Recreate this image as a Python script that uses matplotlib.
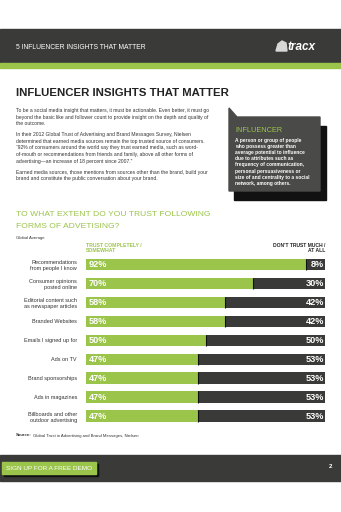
import matplotlib
matplotlib.use("Agg")
import matplotlib.pyplot as plt
from matplotlib.patches import Rectangle, Polygon

# dados do grafico
categorias = [
    "Recommendations\nfrom people I know",
    "Consumer opinions\nposted online",
    "Editorial content such\nas newspaper articles",
    "Branded Websites",
    "Emails I signed up for",
    "Ads on TV",
    "Brand sponsorships",
    "Ads in magazines",
    "Billboards and other\noutdoor advertising",
]
confia = [92, 70, 58, 58, 50, 47, 47, 47, 47]
nao_confia = [8, 30, 42, 42, 50, 53, 53, 53, 53]

paragrafos = [
    ["To be a social media insight that matters, it must be actionable. Even better, it must go",
     "beyond the basic like and follower count to provide insight on the depth and quality of",
     "the outcome."],
    ["In their 2012 Global Trust of Advertising and Brand Messages Survey, Nielsen",
     "determined that earned media sources remain the top trusted source of consumers.",
     "\u201c92% of consumers around the world say they trust earned media, such as word-",
     "of-mouth or recommendations from friends and family, above all other forms of",
     "advertising\u2014an increase of 18 percent since 2007.\u201d"],
    ["Earned media sources, those mentions from sources other than the brand, build your",
     "brand and constitute the public conversation about your brand."],
]
definicao = [
    "A person or group of people",
    "who possess greater than",
    "average potential to influence",
    "due to attributes such as",
    "frequency of communication,",
    "personal persuasiveness or",
    "size of and centrality to a social",
    "network, among others.",
]

VERDE = "#9bc44a"
ESCURO = "#3a3b38"
TEXTO = "#333333"
NORMAL = ["Liberation Sans", "DejaVu Sans"]

W, H = 341, 512
fig = plt.figure(figsize=(W / 100, H / 100), dpi=100)
fig.patch.set_facecolor("white")

fundo = fig.add_axes([0, 0, 1, 1])
fundo.set_xlim(0, W)
fundo.set_ylim(H, 0)
fundo.axis("off")

# cabecalho
fundo.add_patch(Rectangle((0, 29), W, 34, color=ESCURO))
fundo.add_patch(Rectangle((0, 63), W, 5, color=VERDE))
fundo.text(16, 47.5, "5 INFLUENCER INSIGHTS THAT MATTER", color="white",
           fontsize=4.9, family=NORMAL, va="center")
fundo.add_patch(Polygon([[276, 51], [278, 44], [282, 41], [286, 43], [287, 51]],
                        color="#d8d8d8"))
fundo.text(287, 47.5, "tracx", color="white", fontsize=8.5, family=NORMAL,
           weight="bold", style="italic", va="center")

# titulo
fundo.text(16, 93, "INFLUENCER INSIGHTS THAT MATTER", color="#222222",
           fontsize=8.2, family=NORMAL, weight="bold", va="center")

y = 110.5
for par in paragrafos:
    for linha in par:
        fundo.text(16, y, linha, color=TEXTO, fontsize=3.6, family=NORMAL,
                   va="center")
        y += 6.6
    y += 4.4

# caixa de definicao
fundo.add_patch(Rectangle((234, 126), 92, 74, color="#111111"))
fundo.add_patch(Polygon([[229, 108], [237, 117], [320, 117], [320, 191],
                         [229, 191]], color="#4a4b48"))
fundo.text(235, 130, "INFLUENCER", color=VERDE, fontsize=5.3,
           family=NORMAL, va="center")
for i, linha in enumerate(definicao):
    fundo.text(235, 140.5 + i * 6.1, linha, color="white", fontsize=3.5,
               family=NORMAL, weight="bold", va="center")

# titulo do grafico
fundo.text(16, 215, "TO WHAT EXTENT DO YOU TRUST FOLLOWING", color=VERDE,
           fontsize=6.1, family=NORMAL, va="center")
fundo.text(16, 226.5, "FORMS OF ADVETISING?", color=VERDE,
           fontsize=6.1, family=NORMAL, va="center")
fundo.text(16, 237.5, "Global Average", color=TEXTO, fontsize=3.1,
           family=NORMAL, va="center")
fundo.text(86, 248, "TRUST COMPLETELY /\nSOMEWHAT", color=VERDE, fontsize=3.7,
           family=NORMAL, weight="bold", va="center", linespacing=1.1)
fundo.text(325, 248, "DON\u2019T TRUST MUCH /\nAT ALL", color="#222222",
           fontsize=3.6, family=NORMAL, weight="bold", va="center",
           ha="right", multialignment="right", linespacing=1.1)

# barras
ax = fig.add_axes([86 / W, 1 - 425.5 / H, 239 / W, 170.5 / H])
pos = list(range(len(categorias)))
ax.barh(pos, confia, height=0.6, color=VERDE)
ax.barh(pos, nao_confia, left=confia, height=0.6, color=ESCURO)
ax.vlines(confia, [p - 0.3 for p in pos], [p + 0.3 for p in pos],
          color="#111111", lw=0.8)
for p, c, n in zip(pos, confia, nao_confia):
    ax.text(1.0, p, f"{c}%", color="white", fontsize=6.6, family=NORMAL,
            weight="bold", va="center", ha="left")
    ax.text(99.5, p, f"{n}%", color="white", fontsize=6.6, family=NORMAL,
            weight="bold", va="center", ha="right")
ax.set_xlim(0, 100)
ax.set_ylim(len(categorias) - 0.5, -0.5)
ax.set_yticks(pos)
ax.set_yticklabels(categorias, fontsize=4.0, family=NORMAL, color=TEXTO,
                   linespacing=1.3)
ax.tick_params(axis="y", length=0, pad=6.5)
ax.set_xticks([])
for lado in ax.spines.values():
    lado.set_visible(False)
ax.patch.set_alpha(0)

fundo.text(16, 435.5, "Source:", color=TEXTO, fontsize=3.1, family=NORMAL,
           weight="bold", va="center")
fundo.text(33, 435.5, "Global Trust in Advertising and Brand Messages, Nielsen",
           color=TEXTO, fontsize=3.1, family=NORMAL, va="center")

# rodape
fundo.add_patch(Rectangle((0, 455), W, 26, color=ESCURO))
fundo.add_patch(Rectangle((4, 464), 94, 12, color="#111111"))
fundo.add_patch(Rectangle((2, 462), 94, 12, color=VERDE))
fundo.text(6, 468, "SIGN UP FOR A FREE DEMO", color="white", fontsize=4.6,
           family=NORMAL, va="center")
fundo.text(331, 467, "2", color="white", fontsize=4.5, family=NORMAL,
           weight="bold", va="center", ha="center")

fig.savefig("out.png", dpi=100)
